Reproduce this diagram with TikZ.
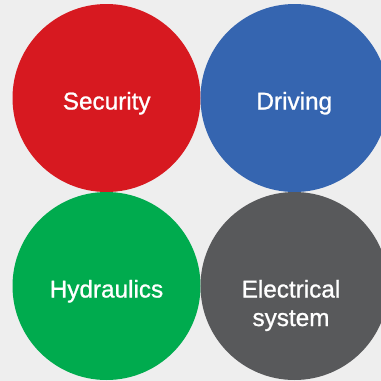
\documentclass[tikz,border=0pt]{standalone}
\usepackage{fontspec}
\setmainfont{Liberation Sans}
\newfontfamily\medfont{Liberation Sans}[FakeBold=1]
\definecolor{bg}{HTML}{EEEEEE}
\definecolor{cred}{HTML}{D71920}
\definecolor{cblue}{HTML}{3565B0}
\definecolor{cgreen}{HTML}{00AB4E}
\definecolor{cgray}{HTML}{58595B}
\begin{document}
\begin{tikzpicture}[x=1pt,y=-1pt,
  disc/.style={circle,minimum size=188pt,inner sep=0pt,draw=none},
  lbl/.style={text=white,font=\medfont\fontsize{24.3}{29}\selectfont,anchor=base,inner sep=0pt}]
\fill[bg] (0,0) rectangle (381,381);
\useasboundingbox (0,0) rectangle (381,381);
\node[disc,fill=cred] (sec) at (106.5,98) {};
\node[disc,fill=cblue] (drv) at (294.5,98) {};
\node[disc,fill=cgreen] (hyd) at (106.5,286) {};
\node[disc,fill=cgray] (ele) at (294.5,286) {};
\node[lbl] (tsec) at (106.7,109.5) {Security};
\node[lbl] (tdrv) at (294.3,109.5) {Driving};
\node[lbl] (thyd) at (106.5,297.5) {Hydraulics};
\node[lbl] (tele1) at (291,297.5) {Electrical};
\node[lbl] (tele2) at (291,326) {system};
\end{tikzpicture}
\end{document}
